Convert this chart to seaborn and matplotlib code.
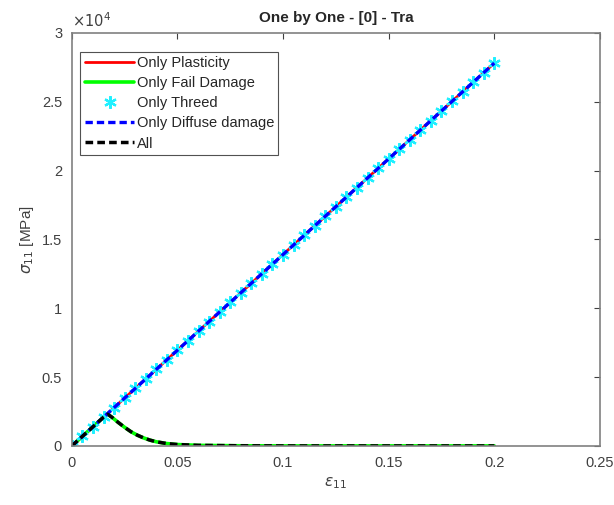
import matplotlib
matplotlib.use("Agg")
import matplotlib.pyplot as plt
import seaborn as sns
import pandas as pd

# Linear curves (Only Plasticity, Only Threed, Only Diffuse damage)
strain_lin = [0.0, 0.005, 0.01, 0.015, 0.02, 0.025, 0.03, 0.035, 0.04, 0.045,
              0.05, 0.055, 0.06, 0.065, 0.07, 0.075, 0.08, 0.085, 0.09, 0.095,
              0.1, 0.105, 0.11, 0.115, 0.12, 0.125, 0.13, 0.135, 0.14, 0.145,
              0.15, 0.155, 0.16, 0.165, 0.17, 0.175, 0.18, 0.185, 0.19, 0.195, 0.2]
stress_lin = [0, 695, 1390, 2085, 2780, 3475, 4170, 4865, 5560, 6255,
              6950, 7645, 8340, 9035, 9730, 10425, 11120, 11815, 12510, 13205,
              13900, 14595, 15290, 15985, 16680, 17375, 18070, 18765, 19460, 20155,
              20850, 21545, 22240, 22935, 23630, 24325, 25020, 25715, 26410, 27105, 27800]

# Damage curves (Only Fail Damage, All)
strain_dmg = [0.0, 0.005, 0.01, 0.015, 0.017, 0.019, 0.022, 0.025, 0.028, 0.031,
              0.034, 0.037, 0.04, 0.045, 0.05, 0.06, 0.08, 0.1, 0.15, 0.2]
stress_dmg = [0, 695, 1390, 2085, 2300, 2080, 1700, 1350, 1030, 780,
              580, 420, 300, 170, 100, 40, 10, 0, 0, 0]

x_ticks = [0, 0.05, 0.1, 0.15, 0.2, 0.25]
x_tick_labels = ["0", "0.05", "0.1", "0.15", "0.2", "0.25"]
y_ticks = [0, 5000, 10000, 15000, 20000, 25000, 30000]
y_tick_labels = ["0", "0.5", "1", "1.5", "2", "2.5", "3"]

sns.set_style("white")
plt.rcParams['font.family'] = ['Liberation Sans', 'DejaVu Sans']
plt.rcParams['mathtext.fontset'] = 'dejavusans'

fig = plt.figure(figsize=(6.14, 5.05), dpi=100)
ax = fig.add_axes([0.117, 0.117, 0.86, 0.818])

df_lin = pd.DataFrame({"e": strain_lin, "s": stress_lin})
df_dmg = pd.DataFrame({"e": strain_dmg, "s": stress_dmg})

dash = (0, (2.2, 1.2))
sns.lineplot(data=df_lin, x="e", y="s", ax=ax, color="#ff0000", lw=2,
             label="Only Plasticity", estimator=None, sort=False)
sns.lineplot(data=df_dmg, x="e", y="s", ax=ax, color="#00ff00", lw=2.6,
             label="Only Fail Damage", estimator=None, sort=False)
sns.lineplot(data=df_lin, x="e", y="s", ax=ax, color="#00ffff", linestyle="none",
             marker=(6, 2, 0), markersize=9, markeredgewidth=1.6, markeredgecolor="#20f0ff",
             label="Only Threed", estimator=None, sort=False)
sns.lineplot(data=df_lin, x="e", y="s", ax=ax, color="#0000ff", lw=2.4,
             linestyle=dash, label="Only Diffuse damage", estimator=None, sort=False)
sns.lineplot(data=df_dmg, x="e", y="s", ax=ax, color="#000000", lw=2.5,
             linestyle=dash, label="All", estimator=None, sort=False)

ax.set_xlim(0, 0.25)
ax.set_ylim(0, 30000)
ax.set_xticks(x_ticks)
ax.set_xticklabels(x_tick_labels)
ax.set_yticks(y_ticks)
ax.set_yticklabels(y_tick_labels)
ax.text(0.0, 1.008, r"$\times10^{4}$", transform=ax.transAxes, fontsize=10.5,
        color="#404040", ha="left", va="bottom")

ax.tick_params(direction='in', top=True, right=True, length=4, width=0.8,
               colors="#404040", labelsize=10.5, pad=7)
for sp in ax.spines.values():
    sp.set_color("#808080")
    sp.set_linewidth(1.2)

ax.set_title("One by One - [0] - Tra", fontsize=11, fontweight='bold', pad=8)
ax.set_xlabel(r"$\epsilon_{11}$", fontsize=11, color="#404040", labelpad=4)
ax.set_ylabel(r"$\sigma_{11}$ [MPa]", fontsize=11, color="#404040")

leg = ax.legend(loc="upper left", bbox_to_anchor=(0.008, 0.965), fontsize=10.5,
                frameon=True, fancybox=False, edgecolor="#262626", handlelength=3.4,
                handletextpad=0.15, borderpad=0.3, labelspacing=0.42, borderaxespad=0.3)
leg.get_frame().set_linewidth(0.8)

fig.savefig("out.png", dpi=100, facecolor="white")
